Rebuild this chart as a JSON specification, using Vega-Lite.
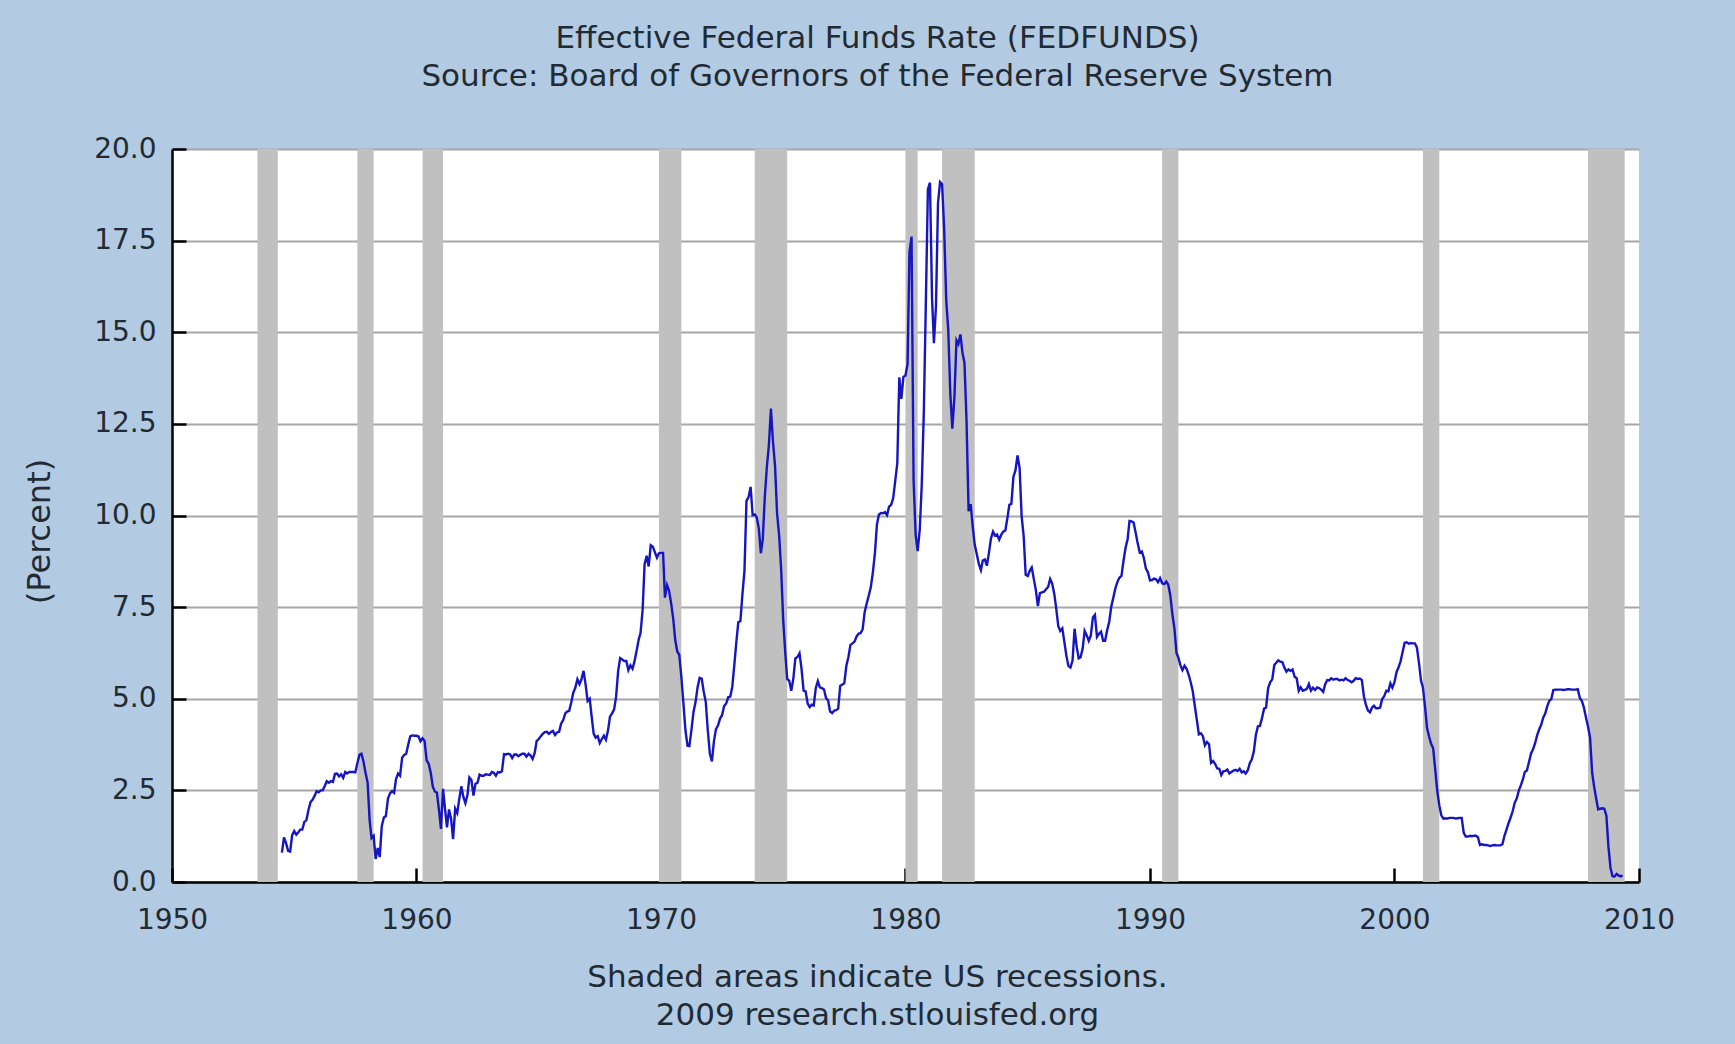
{
"$schema": "https://vega.github.io/schema/vega-lite/v6.json",
"width": 1467,
"height": 733,
"autosize": {"type": "none"},
"padding": {"left": 172, "top": 149, "right": 96, "bottom": 162},
"background": "#b2cbe3",
"title": {"text": ["Effective Federal Funds Rate (FEDFUNDS)", "Source: Board of Governors of the Federal Reserve System"], "anchor": "middle", "dx": -28, "offset": 42, "font": "DejaVu Sans", "fontSize": 31, "fontWeight": "normal", "color": "#222a33", "lineHeight": 38},
"config": {"view": {"fill": "white", "stroke": null}, "font": "DejaVu Sans"},
"datasets": {
"rec": [
{"s":"1953-07","e":"1954-05"},{"s":"1957-08","e":"1958-04"},{"s":"1960-04","e":"1961-02"},{"s":"1969-12","e":"1970-11"},{"s":"1973-11","e":"1975-03"},{"s":"1980-01","e":"1980-07"},{"s":"1981-07","e":"1982-11"},{"s":"1990-07","e":"1991-03"},{"s":"2001-03","e":"2001-11"},{"s":"2007-12","e":"2009-06"}
],
"fed": [
{"d":"1954-07","v":0.80},{"d":"1954-08","v":1.22},{"d":"1954-09","v":1.06},{"d":"1954-10","v":0.85},{"d":"1954-11","v":0.83},{"d":"1954-12","v":1.28},
{"d":"1955-01","v":1.39},{"d":"1955-02","v":1.29},{"d":"1955-03","v":1.35},{"d":"1955-04","v":1.43},{"d":"1955-05","v":1.43},{"d":"1955-06","v":1.64},{"d":"1955-07","v":1.68},{"d":"1955-08","v":1.96},{"d":"1955-09","v":2.18},{"d":"1955-10","v":2.24},{"d":"1955-11","v":2.35},{"d":"1955-12","v":2.48},
{"d":"1956-01","v":2.45},{"d":"1956-02","v":2.50},{"d":"1956-03","v":2.50},{"d":"1956-04","v":2.62},{"d":"1956-05","v":2.75},{"d":"1956-06","v":2.71},{"d":"1956-07","v":2.75},{"d":"1956-08","v":2.73},{"d":"1956-09","v":2.95},{"d":"1956-10","v":2.96},{"d":"1956-11","v":2.88},{"d":"1956-12","v":2.94},
{"d":"1957-01","v":2.84},{"d":"1957-02","v":3.00},{"d":"1957-03","v":2.96},{"d":"1957-04","v":3.00},{"d":"1957-05","v":3.00},{"d":"1957-06","v":3.00},{"d":"1957-07","v":2.99},{"d":"1957-08","v":3.24},{"d":"1957-09","v":3.47},{"d":"1957-10","v":3.50},{"d":"1957-11","v":3.28},{"d":"1957-12","v":2.98},
{"d":"1958-01","v":2.72},{"d":"1958-02","v":1.67},{"d":"1958-03","v":1.20},{"d":"1958-04","v":1.26},{"d":"1958-05","v":0.63},{"d":"1958-06","v":0.93},{"d":"1958-07","v":0.68},{"d":"1958-08","v":1.53},{"d":"1958-09","v":1.76},{"d":"1958-10","v":1.80},{"d":"1958-11","v":2.27},{"d":"1958-12","v":2.42},
{"d":"1959-01","v":2.48},{"d":"1959-02","v":2.43},{"d":"1959-03","v":2.80},{"d":"1959-04","v":2.96},{"d":"1959-05","v":2.90},{"d":"1959-06","v":3.39},{"d":"1959-07","v":3.47},{"d":"1959-08","v":3.50},{"d":"1959-09","v":3.76},{"d":"1959-10","v":3.98},{"d":"1959-11","v":4.00},{"d":"1959-12","v":3.99},
{"d":"1960-01","v":3.99},{"d":"1960-02","v":3.97},{"d":"1960-03","v":3.84},{"d":"1960-04","v":3.92},{"d":"1960-05","v":3.85},{"d":"1960-06","v":3.32},{"d":"1960-07","v":3.23},{"d":"1960-08","v":2.98},{"d":"1960-09","v":2.60},{"d":"1960-10","v":2.47},{"d":"1960-11","v":2.44},{"d":"1960-12","v":1.98},
{"d":"1961-01","v":1.45},{"d":"1961-02","v":2.54},{"d":"1961-03","v":2.02},{"d":"1961-04","v":1.49},{"d":"1961-05","v":1.98},{"d":"1961-06","v":1.73},{"d":"1961-07","v":1.17},{"d":"1961-08","v":2.00},{"d":"1961-09","v":1.88},{"d":"1961-10","v":2.26},{"d":"1961-11","v":2.61},{"d":"1961-12","v":2.33},
{"d":"1962-01","v":2.15},{"d":"1962-02","v":2.37},{"d":"1962-03","v":2.85},{"d":"1962-04","v":2.78},{"d":"1962-05","v":2.36},{"d":"1962-06","v":2.68},{"d":"1962-07","v":2.71},{"d":"1962-08","v":2.93},{"d":"1962-09","v":2.90},{"d":"1962-10","v":2.90},{"d":"1962-11","v":2.94},{"d":"1962-12","v":2.93},
{"d":"1963-01","v":2.92},{"d":"1963-02","v":3.00},{"d":"1963-03","v":2.98},{"d":"1963-04","v":2.90},{"d":"1963-05","v":3.00},{"d":"1963-06","v":2.99},{"d":"1963-07","v":3.02},{"d":"1963-08","v":3.49},{"d":"1963-09","v":3.48},{"d":"1963-10","v":3.50},{"d":"1963-11","v":3.48},{"d":"1963-12","v":3.38},
{"d":"1964-01","v":3.48},{"d":"1964-02","v":3.48},{"d":"1964-03","v":3.43},{"d":"1964-04","v":3.47},{"d":"1964-05","v":3.50},{"d":"1964-06","v":3.50},{"d":"1964-07","v":3.42},{"d":"1964-08","v":3.50},{"d":"1964-09","v":3.45},{"d":"1964-10","v":3.36},{"d":"1964-11","v":3.52},{"d":"1964-12","v":3.85},
{"d":"1965-01","v":3.90},{"d":"1965-02","v":3.98},{"d":"1965-03","v":4.04},{"d":"1965-04","v":4.09},{"d":"1965-05","v":4.10},{"d":"1965-06","v":4.04},{"d":"1965-07","v":4.09},{"d":"1965-08","v":4.12},{"d":"1965-09","v":4.01},{"d":"1965-10","v":4.08},{"d":"1965-11","v":4.10},{"d":"1965-12","v":4.32},
{"d":"1966-01","v":4.42},{"d":"1966-02","v":4.60},{"d":"1966-03","v":4.65},{"d":"1966-04","v":4.67},{"d":"1966-05","v":4.90},{"d":"1966-06","v":5.17},{"d":"1966-07","v":5.30},{"d":"1966-08","v":5.53},{"d":"1966-09","v":5.40},{"d":"1966-10","v":5.53},{"d":"1966-11","v":5.76},{"d":"1966-12","v":5.40},
{"d":"1967-01","v":4.94},{"d":"1967-02","v":5.00},{"d":"1967-03","v":4.53},{"d":"1967-04","v":4.05},{"d":"1967-05","v":3.94},{"d":"1967-06","v":3.98},{"d":"1967-07","v":3.79},{"d":"1967-08","v":3.90},{"d":"1967-09","v":3.99},{"d":"1967-10","v":3.88},{"d":"1967-11","v":4.13},{"d":"1967-12","v":4.51},
{"d":"1968-01","v":4.60},{"d":"1968-02","v":4.71},{"d":"1968-03","v":5.05},{"d":"1968-04","v":5.76},{"d":"1968-05","v":6.11},{"d":"1968-06","v":6.07},{"d":"1968-07","v":6.03},{"d":"1968-08","v":6.03},{"d":"1968-09","v":5.78},{"d":"1968-10","v":5.91},{"d":"1968-11","v":5.82},{"d":"1968-12","v":6.02},
{"d":"1969-01","v":6.30},{"d":"1969-02","v":6.61},{"d":"1969-03","v":6.79},{"d":"1969-04","v":7.41},{"d":"1969-05","v":8.67},{"d":"1969-06","v":8.90},{"d":"1969-07","v":8.61},{"d":"1969-08","v":9.19},{"d":"1969-09","v":9.15},{"d":"1969-10","v":9.00},{"d":"1969-11","v":8.85},{"d":"1969-12","v":8.97},
{"d":"1970-01","v":8.98},{"d":"1970-02","v":8.98},{"d":"1970-03","v":7.76},{"d":"1970-04","v":8.10},{"d":"1970-05","v":7.95},{"d":"1970-06","v":7.61},{"d":"1970-07","v":7.21},{"d":"1970-08","v":6.61},{"d":"1970-09","v":6.29},{"d":"1970-10","v":6.20},{"d":"1970-11","v":5.60},{"d":"1970-12","v":4.90},
{"d":"1971-01","v":4.14},{"d":"1971-02","v":3.72},{"d":"1971-03","v":3.71},{"d":"1971-04","v":4.15},{"d":"1971-05","v":4.63},{"d":"1971-06","v":4.91},{"d":"1971-07","v":5.31},{"d":"1971-08","v":5.57},{"d":"1971-09","v":5.55},{"d":"1971-10","v":5.20},{"d":"1971-11","v":4.91},{"d":"1971-12","v":4.14},
{"d":"1972-01","v":3.50},{"d":"1972-02","v":3.29},{"d":"1972-03","v":3.83},{"d":"1972-04","v":4.17},{"d":"1972-05","v":4.27},{"d":"1972-06","v":4.46},{"d":"1972-07","v":4.55},{"d":"1972-08","v":4.80},{"d":"1972-09","v":4.87},{"d":"1972-10","v":5.04},{"d":"1972-11","v":5.06},{"d":"1972-12","v":5.33},
{"d":"1973-01","v":5.94},{"d":"1973-02","v":6.58},{"d":"1973-03","v":7.09},{"d":"1973-04","v":7.12},{"d":"1973-05","v":7.84},{"d":"1973-06","v":8.49},{"d":"1973-07","v":10.40},{"d":"1973-08","v":10.50},{"d":"1973-09","v":10.78},{"d":"1973-10","v":10.01},{"d":"1973-11","v":10.03},{"d":"1973-12","v":9.95},
{"d":"1974-01","v":9.65},{"d":"1974-02","v":8.97},{"d":"1974-03","v":9.35},{"d":"1974-04","v":10.51},{"d":"1974-05","v":11.31},{"d":"1974-06","v":11.93},{"d":"1974-07","v":12.92},{"d":"1974-08","v":12.01},{"d":"1974-09","v":11.34},{"d":"1974-10","v":10.06},{"d":"1974-11","v":9.45},{"d":"1974-12","v":8.53},
{"d":"1975-01","v":7.13},{"d":"1975-02","v":6.24},{"d":"1975-03","v":5.54},{"d":"1975-04","v":5.49},{"d":"1975-05","v":5.22},{"d":"1975-06","v":5.55},{"d":"1975-07","v":6.10},{"d":"1975-08","v":6.14},{"d":"1975-09","v":6.24},{"d":"1975-10","v":5.82},{"d":"1975-11","v":5.22},{"d":"1975-12","v":5.20},
{"d":"1976-01","v":4.87},{"d":"1976-02","v":4.77},{"d":"1976-03","v":4.84},{"d":"1976-04","v":4.82},{"d":"1976-05","v":5.29},{"d":"1976-06","v":5.48},{"d":"1976-07","v":5.31},{"d":"1976-08","v":5.29},{"d":"1976-09","v":5.25},{"d":"1976-10","v":5.02},{"d":"1976-11","v":4.95},{"d":"1976-12","v":4.65},
{"d":"1977-01","v":4.61},{"d":"1977-02","v":4.68},{"d":"1977-03","v":4.69},{"d":"1977-04","v":4.73},{"d":"1977-05","v":5.35},{"d":"1977-06","v":5.39},{"d":"1977-07","v":5.42},{"d":"1977-08","v":5.90},{"d":"1977-09","v":6.14},{"d":"1977-10","v":6.47},{"d":"1977-11","v":6.51},{"d":"1977-12","v":6.56},
{"d":"1978-01","v":6.70},{"d":"1978-02","v":6.78},{"d":"1978-03","v":6.79},{"d":"1978-04","v":6.89},{"d":"1978-05","v":7.36},{"d":"1978-06","v":7.60},{"d":"1978-07","v":7.81},{"d":"1978-08","v":8.04},{"d":"1978-09","v":8.45},{"d":"1978-10","v":8.96},{"d":"1978-11","v":9.76},{"d":"1978-12","v":10.03},
{"d":"1979-01","v":10.07},{"d":"1979-02","v":10.06},{"d":"1979-03","v":10.09},{"d":"1979-04","v":10.01},{"d":"1979-05","v":10.24},{"d":"1979-06","v":10.29},{"d":"1979-07","v":10.47},{"d":"1979-08","v":10.94},{"d":"1979-09","v":11.43},{"d":"1979-10","v":13.77},{"d":"1979-11","v":13.18},{"d":"1979-12","v":13.78},
{"d":"1980-01","v":13.82},{"d":"1980-02","v":14.13},{"d":"1980-03","v":17.19},{"d":"1980-04","v":17.61},{"d":"1980-05","v":10.98},{"d":"1980-06","v":9.47},{"d":"1980-07","v":9.03},{"d":"1980-08","v":9.61},{"d":"1980-09","v":10.87},{"d":"1980-10","v":12.81},{"d":"1980-11","v":15.85},{"d":"1980-12","v":18.90},
{"d":"1981-01","v":19.08},{"d":"1981-02","v":15.93},{"d":"1981-03","v":14.70},{"d":"1981-04","v":15.72},{"d":"1981-05","v":18.52},{"d":"1981-06","v":19.10},{"d":"1981-07","v":19.04},{"d":"1981-08","v":17.82},{"d":"1981-09","v":15.87},{"d":"1981-10","v":15.08},{"d":"1981-11","v":13.31},{"d":"1981-12","v":12.37},
{"d":"1982-01","v":13.22},{"d":"1982-02","v":14.78},{"d":"1982-03","v":14.68},{"d":"1982-04","v":14.94},{"d":"1982-05","v":14.45},{"d":"1982-06","v":14.15},{"d":"1982-07","v":12.59},{"d":"1982-08","v":10.12},{"d":"1982-09","v":10.31},{"d":"1982-10","v":9.71},{"d":"1982-11","v":9.20},{"d":"1982-12","v":8.95},
{"d":"1983-01","v":8.68},{"d":"1983-02","v":8.51},{"d":"1983-03","v":8.77},{"d":"1983-04","v":8.80},{"d":"1983-05","v":8.63},{"d":"1983-06","v":8.98},{"d":"1983-07","v":9.37},{"d":"1983-08","v":9.56},{"d":"1983-09","v":9.45},{"d":"1983-10","v":9.48},{"d":"1983-11","v":9.34},{"d":"1983-12","v":9.47},
{"d":"1984-01","v":9.56},{"d":"1984-02","v":9.59},{"d":"1984-03","v":9.91},{"d":"1984-04","v":10.29},{"d":"1984-05","v":10.32},{"d":"1984-06","v":11.06},{"d":"1984-07","v":11.23},{"d":"1984-08","v":11.64},{"d":"1984-09","v":11.30},{"d":"1984-10","v":9.99},{"d":"1984-11","v":9.43},{"d":"1984-12","v":8.38},
{"d":"1985-01","v":8.35},{"d":"1985-02","v":8.50},{"d":"1985-03","v":8.58},{"d":"1985-04","v":8.27},{"d":"1985-05","v":7.97},{"d":"1985-06","v":7.53},{"d":"1985-07","v":7.88},{"d":"1985-08","v":7.90},{"d":"1985-09","v":7.92},{"d":"1985-10","v":7.99},{"d":"1985-11","v":8.05},{"d":"1985-12","v":8.27},
{"d":"1986-01","v":8.14},{"d":"1986-02","v":7.86},{"d":"1986-03","v":7.48},{"d":"1986-04","v":6.99},{"d":"1986-05","v":6.85},{"d":"1986-06","v":6.92},{"d":"1986-07","v":6.56},{"d":"1986-08","v":6.17},{"d":"1986-09","v":5.89},{"d":"1986-10","v":5.85},{"d":"1986-11","v":6.04},{"d":"1986-12","v":6.91},
{"d":"1987-01","v":6.43},{"d":"1987-02","v":6.10},{"d":"1987-03","v":6.13},{"d":"1987-04","v":6.37},{"d":"1987-05","v":6.85},{"d":"1987-06","v":6.73},{"d":"1987-07","v":6.58},{"d":"1987-08","v":6.73},{"d":"1987-09","v":7.22},{"d":"1987-10","v":7.29},{"d":"1987-11","v":6.69},{"d":"1987-12","v":6.77},
{"d":"1988-01","v":6.83},{"d":"1988-02","v":6.58},{"d":"1988-03","v":6.58},{"d":"1988-04","v":6.87},{"d":"1988-05","v":7.09},{"d":"1988-06","v":7.51},{"d":"1988-07","v":7.75},{"d":"1988-08","v":8.01},{"d":"1988-09","v":8.19},{"d":"1988-10","v":8.30},{"d":"1988-11","v":8.35},{"d":"1988-12","v":8.76},
{"d":"1989-01","v":9.12},{"d":"1989-02","v":9.36},{"d":"1989-03","v":9.85},{"d":"1989-04","v":9.84},{"d":"1989-05","v":9.81},{"d":"1989-06","v":9.53},{"d":"1989-07","v":9.24},{"d":"1989-08","v":8.99},{"d":"1989-09","v":9.02},{"d":"1989-10","v":8.84},{"d":"1989-11","v":8.55},{"d":"1989-12","v":8.45},
{"d":"1990-01","v":8.23},{"d":"1990-02","v":8.24},{"d":"1990-03","v":8.28},{"d":"1990-04","v":8.26},{"d":"1990-05","v":8.18},{"d":"1990-06","v":8.29},{"d":"1990-07","v":8.15},{"d":"1990-08","v":8.13},{"d":"1990-09","v":8.20},{"d":"1990-10","v":8.11},{"d":"1990-11","v":7.81},{"d":"1990-12","v":7.31},
{"d":"1991-01","v":6.91},{"d":"1991-02","v":6.25},{"d":"1991-03","v":6.12},{"d":"1991-04","v":5.91},{"d":"1991-05","v":5.78},{"d":"1991-06","v":5.90},{"d":"1991-07","v":5.82},{"d":"1991-08","v":5.66},{"d":"1991-09","v":5.45},{"d":"1991-10","v":5.21},{"d":"1991-11","v":4.81},{"d":"1991-12","v":4.43},
{"d":"1992-01","v":4.03},{"d":"1992-02","v":4.06},{"d":"1992-03","v":3.98},{"d":"1992-04","v":3.73},{"d":"1992-05","v":3.82},{"d":"1992-06","v":3.76},{"d":"1992-07","v":3.25},{"d":"1992-08","v":3.30},{"d":"1992-09","v":3.22},{"d":"1992-10","v":3.10},{"d":"1992-11","v":3.09},{"d":"1992-12","v":2.92},
{"d":"1993-01","v":3.02},{"d":"1993-02","v":3.03},{"d":"1993-03","v":3.07},{"d":"1993-04","v":2.96},{"d":"1993-05","v":3.00},{"d":"1993-06","v":3.04},{"d":"1993-07","v":3.06},{"d":"1993-08","v":3.03},{"d":"1993-09","v":3.09},{"d":"1993-10","v":2.99},{"d":"1993-11","v":3.02},{"d":"1993-12","v":2.96},
{"d":"1994-01","v":3.05},{"d":"1994-02","v":3.25},{"d":"1994-03","v":3.34},{"d":"1994-04","v":3.56},{"d":"1994-05","v":4.01},{"d":"1994-06","v":4.25},{"d":"1994-07","v":4.26},{"d":"1994-08","v":4.47},{"d":"1994-09","v":4.73},{"d":"1994-10","v":4.76},{"d":"1994-11","v":5.29},{"d":"1994-12","v":5.45},
{"d":"1995-01","v":5.53},{"d":"1995-02","v":5.92},{"d":"1995-03","v":5.98},{"d":"1995-04","v":6.05},{"d":"1995-05","v":6.01},{"d":"1995-06","v":6.00},{"d":"1995-07","v":5.85},{"d":"1995-08","v":5.74},{"d":"1995-09","v":5.80},{"d":"1995-10","v":5.76},{"d":"1995-11","v":5.80},{"d":"1995-12","v":5.60},
{"d":"1996-01","v":5.56},{"d":"1996-02","v":5.22},{"d":"1996-03","v":5.31},{"d":"1996-04","v":5.22},{"d":"1996-05","v":5.24},{"d":"1996-06","v":5.27},{"d":"1996-07","v":5.40},{"d":"1996-08","v":5.22},{"d":"1996-09","v":5.30},{"d":"1996-10","v":5.24},{"d":"1996-11","v":5.31},{"d":"1996-12","v":5.29},
{"d":"1997-01","v":5.25},{"d":"1997-02","v":5.19},{"d":"1997-03","v":5.39},{"d":"1997-04","v":5.51},{"d":"1997-05","v":5.50},{"d":"1997-06","v":5.56},{"d":"1997-07","v":5.52},{"d":"1997-08","v":5.54},{"d":"1997-09","v":5.54},{"d":"1997-10","v":5.50},{"d":"1997-11","v":5.52},{"d":"1997-12","v":5.50},
{"d":"1998-01","v":5.56},{"d":"1998-02","v":5.51},{"d":"1998-03","v":5.49},{"d":"1998-04","v":5.45},{"d":"1998-05","v":5.49},{"d":"1998-06","v":5.56},{"d":"1998-07","v":5.54},{"d":"1998-08","v":5.55},{"d":"1998-09","v":5.51},{"d":"1998-10","v":5.07},{"d":"1998-11","v":4.83},{"d":"1998-12","v":4.68},
{"d":"1999-01","v":4.63},{"d":"1999-02","v":4.76},{"d":"1999-03","v":4.81},{"d":"1999-04","v":4.74},{"d":"1999-05","v":4.74},{"d":"1999-06","v":4.76},{"d":"1999-07","v":4.99},{"d":"1999-08","v":5.07},{"d":"1999-09","v":5.22},{"d":"1999-10","v":5.20},{"d":"1999-11","v":5.42},{"d":"1999-12","v":5.30},
{"d":"2000-01","v":5.45},{"d":"2000-02","v":5.73},{"d":"2000-03","v":5.85},{"d":"2000-04","v":6.02},{"d":"2000-05","v":6.27},{"d":"2000-06","v":6.53},{"d":"2000-07","v":6.54},{"d":"2000-08","v":6.50},{"d":"2000-09","v":6.52},{"d":"2000-10","v":6.51},{"d":"2000-11","v":6.51},{"d":"2000-12","v":6.40},
{"d":"2001-01","v":5.98},{"d":"2001-02","v":5.49},{"d":"2001-03","v":5.31},{"d":"2001-04","v":4.80},{"d":"2001-05","v":4.21},{"d":"2001-06","v":3.97},{"d":"2001-07","v":3.77},{"d":"2001-08","v":3.65},{"d":"2001-09","v":3.07},{"d":"2001-10","v":2.49},{"d":"2001-11","v":2.09},{"d":"2001-12","v":1.82},
{"d":"2002-01","v":1.73},{"d":"2002-02","v":1.74},{"d":"2002-03","v":1.73},{"d":"2002-04","v":1.75},{"d":"2002-05","v":1.75},{"d":"2002-06","v":1.75},{"d":"2002-07","v":1.73},{"d":"2002-08","v":1.74},{"d":"2002-09","v":1.75},{"d":"2002-10","v":1.75},{"d":"2002-11","v":1.34},{"d":"2002-12","v":1.24},
{"d":"2003-01","v":1.24},{"d":"2003-02","v":1.26},{"d":"2003-03","v":1.25},{"d":"2003-04","v":1.26},{"d":"2003-05","v":1.26},{"d":"2003-06","v":1.22},{"d":"2003-07","v":1.01},{"d":"2003-08","v":1.03},{"d":"2003-09","v":1.01},{"d":"2003-10","v":1.01},{"d":"2003-11","v":1.00},{"d":"2003-12","v":0.98},
{"d":"2004-01","v":1.00},{"d":"2004-02","v":1.01},{"d":"2004-03","v":1.00},{"d":"2004-04","v":1.00},{"d":"2004-05","v":1.00},{"d":"2004-06","v":1.03},{"d":"2004-07","v":1.26},{"d":"2004-08","v":1.43},{"d":"2004-09","v":1.61},{"d":"2004-10","v":1.76},{"d":"2004-11","v":1.93},{"d":"2004-12","v":2.16},
{"d":"2005-01","v":2.28},{"d":"2005-02","v":2.50},{"d":"2005-03","v":2.63},{"d":"2005-04","v":2.79},{"d":"2005-05","v":3.00},{"d":"2005-06","v":3.04},{"d":"2005-07","v":3.26},{"d":"2005-08","v":3.50},{"d":"2005-09","v":3.62},{"d":"2005-10","v":3.78},{"d":"2005-11","v":4.00},{"d":"2005-12","v":4.16},
{"d":"2006-01","v":4.29},{"d":"2006-02","v":4.49},{"d":"2006-03","v":4.59},{"d":"2006-04","v":4.79},{"d":"2006-05","v":4.94},{"d":"2006-06","v":4.99},{"d":"2006-07","v":5.24},{"d":"2006-08","v":5.25},{"d":"2006-09","v":5.25},{"d":"2006-10","v":5.25},{"d":"2006-11","v":5.25},{"d":"2006-12","v":5.24},
{"d":"2007-01","v":5.25},{"d":"2007-02","v":5.26},{"d":"2007-03","v":5.26},{"d":"2007-04","v":5.25},{"d":"2007-05","v":5.25},{"d":"2007-06","v":5.25},{"d":"2007-07","v":5.26},{"d":"2007-08","v":5.02},{"d":"2007-09","v":4.94},{"d":"2007-10","v":4.76},{"d":"2007-11","v":4.49},{"d":"2007-12","v":4.24},
{"d":"2008-01","v":3.94},{"d":"2008-02","v":2.98},{"d":"2008-03","v":2.61},{"d":"2008-04","v":2.28},{"d":"2008-05","v":1.98},{"d":"2008-06","v":2.00},{"d":"2008-07","v":2.01},{"d":"2008-08","v":2.00},{"d":"2008-09","v":1.81},{"d":"2008-10","v":0.97},{"d":"2008-11","v":0.39},{"d":"2008-12","v":0.16},
{"d":"2009-01","v":0.15},{"d":"2009-02","v":0.22},{"d":"2009-03","v":0.18},{"d":"2009-04","v":0.15},{"d":"2009-05","v":0.18}
]
},
"layer": [
{
"data": {"name": "rec"},
"mark": {"type": "rect", "color": "#c0c0c0"},
"encoding": {
"x": {"field": "s", "type": "temporal", "scale": {"type": "utc", "domain": [{"year": 1950, "utc": true}, {"year": 2010, "utc": true}]},
"axis": {"title": ["Shaded areas indicate US recessions.", "2009 research.stlouisfed.org"], "values": [{"year": 1950, "utc": true}, {"year": 1960, "utc": true}, {"year": 1970, "utc": true}, {"year": 1980, "utc": true}, {"year": 1990, "utc": true}, {"year": 2000, "utc": true}, {"year": 2010, "utc": true}], "format": "%Y", "grid": false, "domainColor": "black", "domainWidth": 2.5, "tickColor": "black", "tickWidth": 2.5, "tickSize": -14, "labelPadding": 38, "labelFontSize": 28, "labelColor": "#222a33", "labelFont": "DejaVu Sans", "labelFlush": false, "titleFont": "DejaVu Sans", "titleFontSize": 31, "titleFontWeight": "normal", "titleColor": "#222a33", "titleX": 705, "titleY": 80, "titleBaseline": "top", "titleLineHeight": 38, "titleAnchor": null}},
"x2": {"field": "e"}
}
},
{
"data": {"name": "fed"},
"mark": {"type": "line", "color": "#1616c0", "strokeWidth": 2.4},
"encoding": {
"x": {"field": "d", "type": "temporal", "scale": {"type": "utc", "domain": [{"year": 1950, "utc": true}, {"year": 2010, "utc": true}]},
"axis": {"title": ["Shaded areas indicate US recessions.", "2009 research.stlouisfed.org"], "values": [{"year": 1950, "utc": true}, {"year": 1960, "utc": true}, {"year": 1970, "utc": true}, {"year": 1980, "utc": true}, {"year": 1990, "utc": true}, {"year": 2000, "utc": true}, {"year": 2010, "utc": true}], "format": "%Y", "grid": false, "domainColor": "black", "domainWidth": 2.5, "tickColor": "black", "tickWidth": 2.5, "tickSize": -14, "labelPadding": 38, "labelFontSize": 28, "labelColor": "#222a33", "labelFont": "DejaVu Sans", "labelFlush": false, "titleFont": "DejaVu Sans", "titleFontSize": 31, "titleFontWeight": "normal", "titleColor": "#222a33", "titleX": 705, "titleY": 80, "titleBaseline": "top", "titleLineHeight": 38, "titleAnchor": null}},
"y": {"field": "v", "type": "quantitative", "scale": {"domain": [0, 20], "nice": false, "zero": true},
"axis": {"title": "(Percent)", "values": [0, 2.5, 5, 7.5, 10, 12.5, 15, 17.5, 20], "format": ".1f", "grid": true, "gridColor": "#a6a6a6", "gridWidth": 2, "domainColor": "black", "domainWidth": 2.5, "tickColor": "black", "tickWidth": 2.5, "tickSize": -14, "labelPadding": 30, "labelFontSize": 28, "labelColor": "#222a33", "labelFont": "DejaVu Sans", "labelFlush": false, "titleFont": "DejaVu Sans", "titleFontSize": 32, "titleFontWeight": "normal", "titleColor": "#222a33", "titleX": -133, "titleY": 382, "titleBaseline": "middle", "titleAngle": -90}}
}
}
]
}
